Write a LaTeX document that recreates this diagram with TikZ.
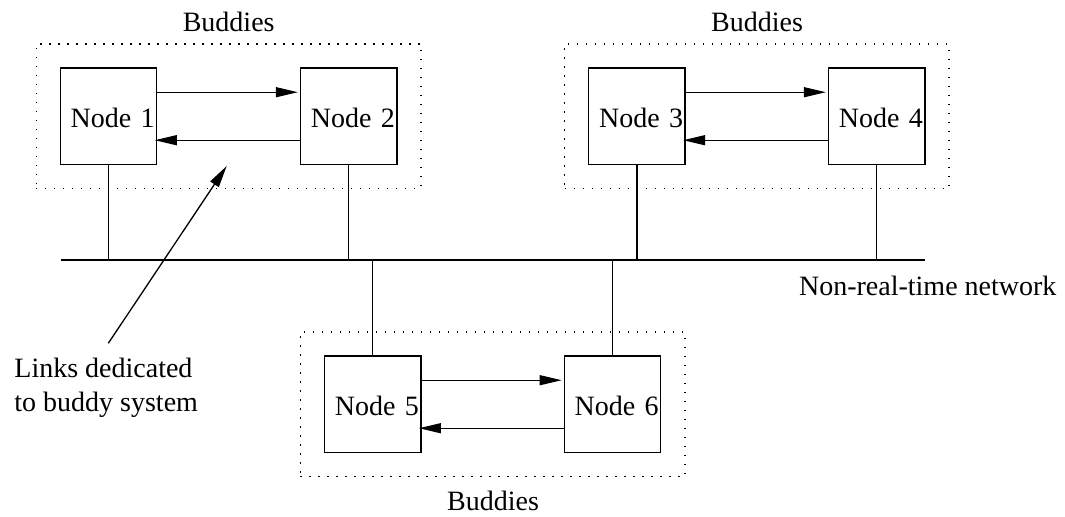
\documentclass[tikz,border=0pt]{standalone}
\usepackage{fontspec}
\setmainfont{Liberation Serif}
\usetikzlibrary{arrows.meta,fit}
\begin{document}
\begin{tikzpicture}[x=0.5pt,y=-0.5pt,
  every node/.style={font=\fontsize{14}{17}\selectfont},
  station/.style={draw, line width=0.65pt, minimum height=48.15pt,
    text width=46.2pt, inner xsep=1pt, inner ysep=0pt, align=right,
    text height=11.7pt, text depth=0pt},
  group/.style={draw, line width=0.65pt, dash pattern=on 0.65pt off 3.85pt,
    inner sep=11.75pt},
  wire/.style={line width=0.65pt},
  link/.style={line width=0.65pt, -{Triangle[length=11pt,width=5pt]}}]
  \useasboundingbox (0,0) rectangle (1065,516);

  % stations
  \node[station] (n1) at (108.5,116.2) {Node 1};
  \node[station] (n2) at (348.7,116.2) {Node 2};
  \node[station] (n3) at (636.9,116.2) {Node 3};
  \node[station] (n4) at (876.7,116.2) {Node 4};
  \node[station] (n5) at (372.7,404.2) {Node 5};
  \node[station] (n6) at (612.5,404.2) {Node 6};

  % buddy groups
  \node[group, fit=(n1)(n2)] (g12) {};
  \node[group, fit=(n3)(n4)] (g34) {};
  \node[group, fit=(n5)(n6)] (g56) {};
  \node[anchor=base] (b12) at (228.7,31.7) {Buddies};
  \node[anchor=base] (b34) at (757,31.7) {Buddies};
  \node[anchor=base] (b56) at (493,510.7) {Buddies};

  % dedicated links between buddies
  \foreach \a/\b in {n1/n2,n3/n4,n5/n6}{
    \draw[link, shorten >=1pt] ([yshift=12pt]\a.east) -- ([yshift=12pt]\b.west);
    \draw[link, shorten >=-1.3pt] ([yshift=-12pt]\b.west) -- ([yshift=-12pt]\a.east);
  }

  % shared network
  \coordinate (netL) at (60.5,260);
  \coordinate (netR) at (924.7,260);
  \draw[wire] (netL) -- (netR);
  \foreach \n in {n1,n2,n3,n4}
    \draw[wire] (\n.south) -- (\n.south |- netL);
  \foreach \n in {n5,n6}
    \draw[wire] (\n.north) -- (\n.north |- netL);
  \node[anchor=base west] (netlabel) at (792,295) {Non-real-time network};

  % annotation
  \node[anchor=base west, inner sep=0pt] (linklabel) at (14,377.7)
    {\vtop{\baselineskip=17pt\hbox{Links dedicated}\hbox{to buddy system}}};
  \coordinate (leadS) at (108.3,343.3);
  \coordinate (leadE) at (226.7,166);
  \draw[link] (leadS) -- (leadE);
\end{tikzpicture}
\end{document}
